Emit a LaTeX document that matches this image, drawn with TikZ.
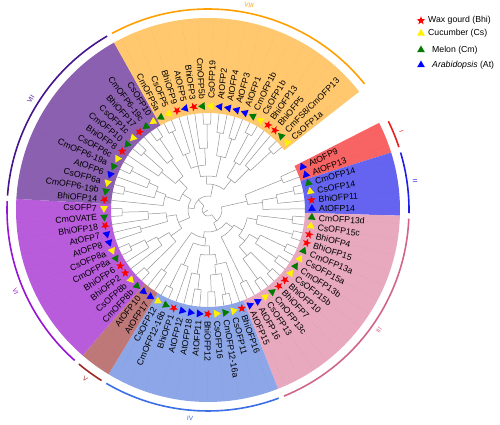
\documentclass[tikz,border=0pt]{standalone}
\usepackage{fontspec}
\setmainfont{Liberation Sans}
\usetikzlibrary{shapes.geometric}

\definecolor{bandI}{HTML}{F86464}
\definecolor{bandII}{HTML}{6464F0}
\definecolor{bandIII}{HTML}{E8A8BE}
\definecolor{bandIV}{HTML}{8CA6E8}
\definecolor{bandV}{HTML}{BE7878}
\definecolor{bandVI}{HTML}{B95CDC}
\definecolor{bandVII}{HTML}{8C60B0}
\definecolor{bandVIII}{HTML}{FFC86E}
\definecolor{arcI}{HTML}{E81E1E}
\definecolor{arcII}{HTML}{1E1EE6}
\definecolor{arcIII}{HTML}{D2648C}
\definecolor{arcIV}{HTML}{3C6EE6}
\definecolor{arcV}{HTML}{A02828}
\definecolor{arcVI}{HTML}{9614D2}
\definecolor{arcVII}{HTML}{46148C}
\definecolor{arcVIII}{HTML}{FFA000}
\definecolor{melon}{HTML}{007A00}

\tikzset{
  leaf/.style={font=\fontsize{8.7}{9}\selectfont, inner sep=0pt},
  grouplab/.style={font=\fontsize{6.5}{7}\selectfont, inner sep=0pt},
  branch/.style={draw=black!42, line width=0.5pt},
  leader/.style={draw=black, line width=0.3pt, dotted, opacity=0.2},
  tri/.style={regular polygon, regular polygon sides=3, inner sep=0pt, minimum size=9pt},
  Bh sym/.style={star, star points=5, star point ratio=2.4, fill=red, inner sep=0pt, minimum size=9pt},
  Cs sym/.style={tri, fill=yellow},
  Cm sym/.style={tri, fill=melon},
  At sym/.style={tri, fill=blue},
}

\begin{document}
\begin{tikzpicture}[x=1pt,y=1pt]
  \useasboundingbox (-208,-215) rectangle (292,210);

  % clade bands, outer arcs and numerals
  \foreach \ga/\gb/\bc/\ac/\lab in {0/1/bandI/arcI/I, 2/5/bandII/arcII/II,
      6/19/bandIII/arcIII/III, 20/30/bandIV/arcIV/IV, 31/32/bandV/arcV/V,
      33/43/bandVI/arcVI/VI, 44/55/bandVII/arcVII/VII, 56/72/bandVIII/arcVIII/VIII} {
    \pgfmathsetmacro\angA{24.6-4.78*(\ga-0.5)}
    \pgfmathsetmacro\angB{24.6-4.78*(\gb+0.5)}
    \pgfmathsetmacro\angM{(\angA+\angB)/2}
    \pgfmathsetmacro\arcA{\angA-0.8}
    \pgfmathsetmacro\arcB{\angB+0.8}
    \pgfmathsetmacro\angR{sin(\angM)>=0 ? \angM-90 : \angM+90}
    \fill[\bc] (\angA:97pt) arc[start angle=\angA, end angle=\angB, radius=97pt]
      -- (\angB:192pt) arc[start angle=\angB, end angle=\angA, radius=192pt] -- cycle;
    \draw[\ac, line width=1.6pt] (\arcA:201pt) arc[start angle=\arcA, end angle=\arcB, radius=201pt];
    \node[grouplab, text=\ac, rotate=\angR] (g\lab) at (\angM:209pt) {\lab};
  }

  % inner branches: position/radius/parent radius/first child/last child
  \foreach \p/\r/\rp/\pa/\pb in {36/6/0/16/52.5, 16/14/6/2.5/19,
      2.5/40/14/0.5/3.5, 0.5/80/40/0/1, 3.5/55/40/3/5, 3/70/55/2.5/4, 2.5/88/70/2/3,
      19/22/14/12.5/26, 12.5/30/22/11.5/18.5, 18.5/80/30/18/19, 11.5/40/30/7.5/13.5,
      7.5/50/40/6.5/8.5, 6.5/85/50/6/7, 8.5/88/50/8/9, 13.5/48/40/11.5/15.5,
      11.5/58/48/10.5/12.5, 10.5/86/58/10/11, 12.5/84/58/12/13,
      15.5/60/48/14.5/16.5, 14.5/87/60/14/15, 16.5/85/60/16/17,
      26/28/22/25/31.5, 31.5/75/28/31/32, 25/36/28/23.5/29, 23.5/45/36/22/26,
      22/55/45/20/22.5, 22.5/65/55/21.5/23.5, 21.5/86/65/21/22, 23.5/82/65/23/24,
      26/65/45/25.5/27, 25.5/80/65/25/26, 29/60/36/28/29.5, 29.5/86/60/29/30,
      52.5/14/6/44/64, 44/20/14/38/49.5, 38/32/20/35.5/41, 35.5/45/32/33.5/36.5,
      33.5/86/45/33/34, 36.5/58/45/35/37, 37/70/58/36/37.5, 37.5/86/70/37/38,
      41/42/32/39.5/42, 39.5/70/42/39/40, 42/60/42/41/42.5, 42.5/86/60/42/43,
      49.5/30/20/46.5/52.5, 46.5/45/30/44/47, 47/55/45/45.5/48, 45.5/86/55/45/46,
      48/65/55/47/48.5, 48.5/86/65/48/49, 52.5/42/30/51/54, 51/60/42/50/51.5,
      51.5/86/60/51/52, 54/62/42/53/54.5, 54.5/86/62/54/55,
      64/26/14/61/69.5, 61/34/26/59/64.5, 59/45/34/57/61, 57/60/45/56.5/58,
      56.5/86/60/56/57, 61/62/45/60/61.5, 61.5/86/62/61/62, 64.5/55/34/63.5/65.5,
      63.5/78/55/63/64, 65.5/75/55/65/66, 69.5/38/26/68/71, 68/55/38/67.5/69,
      67.5/86/55/67/68, 71/58/38/70/71.5, 71.5/86/58/71/72} {
    \pgfmathsetmacro\angP{24.6-4.78*\p}
    \pgfmathsetmacro\angA{24.6-4.78*\pa}
    \pgfmathsetmacro\angB{24.6-4.78*\pb}
    \draw[branch] (\angP:\rp pt) -- (\angP:\r pt);
    \draw[branch] (\angA:\r pt) arc[start angle=\angA, end angle=\angB, radius=\r pt];
  }

  % leaves: name/species/parent radius
  \foreach \name/\sp/\rp [count=\i from 0] in {AtOFP9/At/80, AtOFP13/At/80,
      CmOFP14/Cm/88, CsOFP14/Cs/88, BhiOFP11/Bh/70, AtOFP14/At/55,
      CmOFP13d/Cm/85, CsOFP15c/Cs/85, BhiOFP4/Bh/88, BhiOFP15/Bh/88, CmOFP13a/Cm/86,
      CsOFP15a/Cs/86, CmOFP13b/Cm/84, CsOFP15b/Cs/84, BhiOFP10/Bh/87, BhiOFP7/Bh/87,
      CmOFP13c/Cm/85, CsOFP13/Cs/85, AtOFP16/At/80, AtOFP15/At/80,
      BhiOFP16/Bh/55, CsOFP11/Cs/86, CmOFP12-16a/Cm/86, CsOFP16/Cs/82, BhiOFP12/Bh/82,
      AtOFP11/At/80, AtOFP18/At/80, AtOFP12/At/65, BhiOFP1/Bh/60, CmOFP12-16b/Cm/86,
      CsOFP12/Cs/86,
      AtOFP17/At/75, AtOFP10/At/75,
      CmOFP8b/Cm/86, CsOFP8b/Cs/86, BhiOFP2/Bh/58, BhiOFP6/Bh/70, CmOFP8a/Cm/86,
      CsOFP8a/Cs/86, AtOFP8/At/70, AtOFP7/At/70, BhiOFP18/Bh/60, CmOVATE/Cm/86,
      CsOFP7/Cs/86,
      BhiOFP14/Bh/45, CmOFP6-19b/Cm/86, CsOFP6a/Cs/86, AtOFP6/At/65, CmOFP6-19a/Cm/86,
      CsOFP6c/Cs/86, BhiOFP8/Bh/60, CmOFP10/Cm/86, CsOFP1c/Cs/86, BhiOFP17/Bh/62,
      CmOFP6-19c/Cm/86, CsOFP10/Cs/86,
      CmOFP5a/Cm/86, CsOFP5/Cs/86, BhiOFP9/Bh/60, AtOFP5/At/45, BhiOFP3/Bh/62,
      CmOFP5b/Cm/86, CsOFP19/Cs/86, AtOFP2/At/78, AtOFP4/At/78, AtOFP3/At/75,
      AtOFP1/At/75, CmOFP1b/Cm/86, CsOFP1b/Cs/86, BhiOFP13/Bh/55, BhiOFP5/Bh/58,
      {CmFS8/CmOFP13}/Cm/86, CsOFP1a/Cs/86} {
    \pgfmathsetmacro\ang{24.6-4.78*\i}
    \pgfmathtruncatemacro\rside{cos(\ang)>-0.01}
    \draw[branch] (\ang:\rp pt) -- (\ang:97pt);
    \node[\sp\space sym, rotate=\ang] (m\i) at (\ang:104pt) {};
    \ifnum\rside=1
      \node[leaf, anchor=west, rotate=\ang] (t\i) at (\ang:111pt) {\name};
      \draw[leader] (t\i.east) -- (\ang:190pt);
    \else
      \node[leaf, anchor=east, rotate=\ang+180] (t\i) at (\ang:111pt) {\name};
      \draw[leader] (t\i.west) -- (\ang:190pt);
    \fi
  }

  % legend
  \node[Bh sym] (kBh) at (213,189.3) {};
  \node[Cs sym] (kCs) at (213,176.7) {};
  \node[Cm sym] (kCm) at (213,160) {};
  \node[At sym] (kAt) at (213,145) {};
  \node[leaf, anchor=west] (lBh) at (220,189.3) {Wax gourd (Bhi)};
  \node[leaf, anchor=west] (lCs) at (220,176.7) {Cucumber (Cs)};
  \node[leaf, anchor=west] (lCm) at (224,160) {Melon (Cm)};
  \node[leaf, anchor=west] (lAt) at (224,145) {\textit{Arabidopsis} (At)};
\end{tikzpicture}
\end{document}
